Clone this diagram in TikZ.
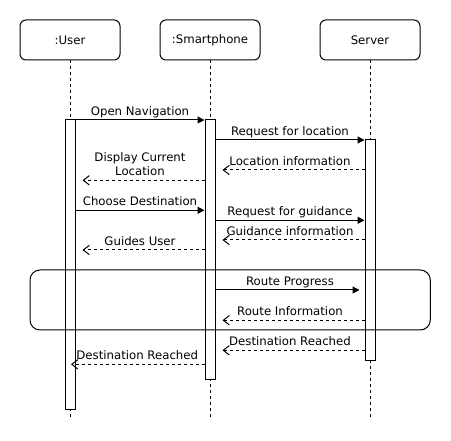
\documentclass[tikz,border=0pt]{standalone}
\usepackage{fontspec}
\setmainfont{DejaVu Sans}
\usetikzlibrary{arrows.meta,positioning,fit}

\begin{document}
\begin{tikzpicture}[x=0.75pt, y=-0.75pt, line width=0.75pt,
    txt/.style={font=\fontsize{8.8}{10.7}\selectfont},
    head/.style={draw, txt, rounded corners=4.5pt, minimum width=75pt, minimum height=30pt},
    bar/.style={draw, fill=white, inner sep=0pt},
    life/.style={dash pattern=on 2.25pt off 2.25pt},
    call/.style={-{Triangle[length=5.25pt, width=5.25pt]}},
    reply/.style={dash pattern=on 2.25pt off 2.25pt, -{Straight Barb[length=4.5pt, width=7pt]}, shorten >=5.25pt},
    lbl/.style={txt, above, inner sep=1pt, text depth=2.25pt, align=center}]
    \useasboundingbox (0,0) rectangle (451,441);

    % lifeline heads
    \node[head] (user) at (70,40) {:User};
    \node[head] (phone) at (210,40) {:Smartphone};
    \node[head] (server) at (370,40) {Server};

    \draw[life] (user) -- (user.south |- 0,417);
    \draw[life] (phone) -- (phone.south |- 0,417);
    \draw[life] (server) -- (server.south |- 0,417);

    % activation bars
    \node[bar, fit={(65,120) (75,410)}] (ubar) {};
    \node[bar, fit={(205,120) (215,380)}] (pbar) {};
    \node[bar, fit={(365,140) (375,360.7)}] (sbar) {};

    % messages
    \draw[call] (ubar.east |- 0,120) -- node[lbl] {Open Navigation} (pbar.west |- 0,120);
    \draw[call] (pbar.east |- 0,140) -- node[lbl] {Request for location} (sbar.west |- 0,140);
    \draw[reply] (sbar.west |- 0,170) -- node[lbl] {Location information} (pbar.east |- 0,170);
    \draw[reply] (pbar.west |- 0,180.3) -- node[lbl] {Display Current\\Location} (ubar.east |- 0,180.3);
    \draw[call] (ubar.east |- 0,210.3) -- node[lbl] {Choose Destination} (pbar.west |- 0,210.3);
    \draw[call] (pbar.east |- 0,220.3) -- node[lbl] {Request for guidance} (sbar.west |- 0,220.3);
    \draw[reply] (sbar.west |- 0,240) -- node[lbl] {Guidance information} (pbar.east |- 0,240);
    \draw[reply] (pbar.west |- 0,250) -- node[lbl] {Guides User} (ubar.east |- 0,250);

    \draw[call, shorten >=3.75pt] (pbar.east |- 0,290) -- node[lbl] {Route Progress} (sbar.west |- 0,290);
    \draw[reply] (sbar.west |- 0,320.3) -- node[lbl] {Route Information} (pbar.east |- 0,320.3);
    \draw[reply] (sbar.west |- 0,350.3) -- node[lbl] {Destination Reached} (pbar.east |- 0,350.3);
    \draw[reply, shorten >=0.75pt] (pbar.west |- 0,364.3) -- node[lbl] {Destination Reached} (ubar.center |- 0,364.3);

    % loop frame
    \draw[rounded corners=7.5pt] (30,270) rectangle (430.3,330);
\end{tikzpicture}
\end{document}
